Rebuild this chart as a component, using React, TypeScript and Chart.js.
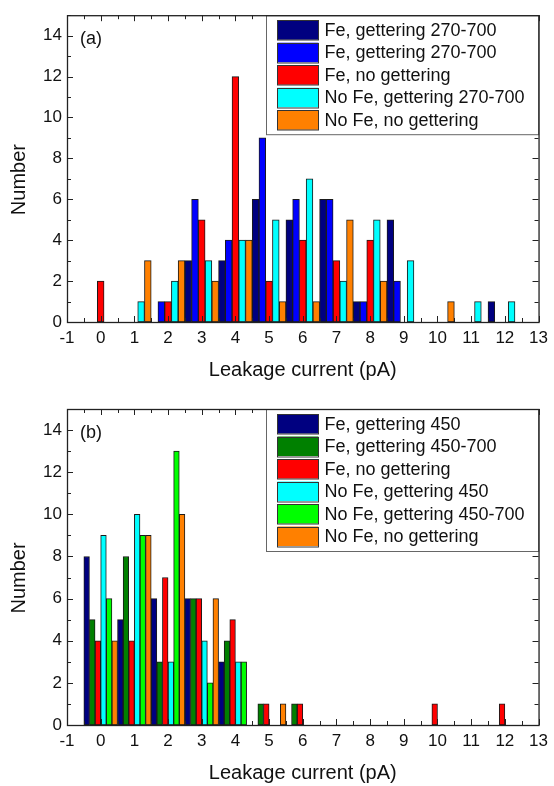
import React, { useEffect, useRef } from 'react';
import { Chart, registerables } from 'chart.js';

Chart.register(...registerables);

// ---------- data ----------
const BINS = [0, 1, 2, 3, 4, 5, 6, 7, 8, 9, 10, 11, 12];
const X_TICKS = [-1, 0, 1, 2, 3, 4, 5, 6, 7, 8, 9, 10, 11, 12, 13];
const Y_TICKS = [0, 2, 4, 6, 8, 10, 12, 14];

// Panel (a)
const A_LABELS = [
  'Fe, gettering 270-700',
  'Fe, gettering 270-700',
  'Fe, no gettering',
  'No Fe, gettering 270-700',
  'No Fe, no gettering',
];
const A_COLORS = ['#000080', '#0000ff', '#ff0000', '#00ffff', '#ff8000'];
const A_FE_GET_DARK = [0, 0, 0, 3, 3, 6, 5, 6, 1, 5, 0, 0, 1];
const A_FE_GET_BLUE = [0, 0, 1, 6, 4, 9, 6, 6, 1, 2, 0, 0, 0];
const A_FE_NOGET = [2, 0, 1, 5, 12, 2, 4, 3, 4, 0, 0, 0, 0];
const A_NOFE_GET = [0, 1, 2, 3, 4, 5, 7, 2, 5, 3, 0, 1, 1];
const A_NOFE_NOGET = [0, 3, 3, 2, 4, 1, 1, 5, 2, 0, 1, 0, 0];

// Panel (b)
const B_LABELS = [
  'Fe, gettering 450',
  'Fe, gettering 450-700',
  'Fe, no gettering',
  'No Fe, gettering 450',
  'No Fe, gettering 450-700',
  'No Fe, no gettering',
];
const B_COLORS = ['#000080', '#008000', '#ff0000', '#00ffff', '#00ff00', '#ff8000'];
const B_FE_450 = [8, 5, 6, 6, 3, 0, 0, 0, 0, 0, 0, 0, 0];
const B_FE_450_700 = [5, 8, 3, 6, 4, 1, 1, 0, 0, 0, 0, 0, 0];
const B_FE_NOGET = [4, 4, 7, 6, 5, 1, 1, 0, 0, 0, 1, 0, 1];
const B_NOFE_450 = [9, 10, 3, 4, 3, 0, 0, 0, 0, 0, 0, 0, 0];
const B_NOFE_450_700 = [6, 9, 13, 2, 3, 0, 0, 0, 0, 0, 0, 0, 0];
const B_NOFE_NOGET = [4, 9, 10, 6, 0, 1, 0, 0, 0, 0, 0, 0, 0];

const X_TITLE = 'Leakage current (pA)';
const Y_TITLE = 'Number';

// ---------- styling ----------
const FONT = "'Liberation Sans', Arial, sans-serif";
const TEXT = '#111';
const W = 554;
const H = 393;

const framePlugin = {
  id: 'frame',
  afterDatasetsDraw(chart: any) {
    const { ctx, chartArea, scales } = chart;
    const { left, right, top, bottom } = chartArea;
    const x = scales.x;
    const y = scales.y;
    ctx.save();
    ctx.strokeStyle = '#222';
    ctx.lineWidth = 1;
    ctx.beginPath();
    for (let v = X_TICKS[0]; v <= X_TICKS[X_TICKS.length - 1] + 1e-9; v += 0.5) {
      const px = Math.round(x.getPixelForValue(v)) + 0.5;
      const len = Number.isInteger(v) ? 6 : 4;
      ctx.moveTo(px, bottom);
      ctx.lineTo(px, bottom - len);
      ctx.moveTo(px, top);
      ctx.lineTo(px, top + len);
    }
    for (let v = 0; v <= y.max + 1e-9; v += 1) {
      const py = Math.round(y.getPixelForValue(v)) + 0.5;
      const len = v % 2 === 0 ? 6 : 4;
      ctx.moveTo(left, py);
      ctx.lineTo(left + len, py);
      ctx.moveTo(right, py);
      ctx.lineTo(right - len, py);
    }
    ctx.stroke();
    ctx.restore();
  },
  afterDraw(chart: any) {
    const { ctx, chartArea } = chart;
    const { left, right, top, bottom } = chartArea;
    const panel = chart.options.plugins.panelInfo || {};
    ctx.save();
    // legend
    const items = chart.data.datasets;
    ctx.font = `18px ${FONT}`;
    let maxW = 0;
    items.forEach((d: any) => {
      maxW = Math.max(maxW, ctx.measureText(d.label).width);
    });
    const rowH = 22.5;
    const patchW = 41;
    const patchH = 19.5;
    const padL = 11;
    const gap = 6;
    const padR = 14;
    const padT = 5;
    const boxW = padL + patchW + gap + maxW + padR;
    const boxH = padT + items.length * rowH + 1.5;
    const bx = right - boxW;
    const by = top;
    ctx.fillStyle = '#fff';
    ctx.fillRect(bx, by, boxW, boxH);
    ctx.strokeStyle = '#666';
    ctx.lineWidth = 1;
    ctx.strokeRect(Math.round(bx) + 0.5, by + 0.5, boxW, Math.round(boxH));
    items.forEach((d: any, i: number) => {
      const py = by + padT + i * rowH;
      const px = bx + padL;
      ctx.fillStyle = d.backgroundColor;
      ctx.fillRect(px, py, patchW, patchH);
      ctx.strokeStyle = '#333';
      ctx.lineWidth = 1;
      ctx.strokeRect(Math.round(px) + 0.5, Math.round(py) + 0.5, patchW, patchH);
      ctx.fillStyle = TEXT;
      ctx.textAlign = 'left';
      ctx.textBaseline = 'middle';
      ctx.fillText(d.label, px + patchW + gap, py + patchH / 2 + 1);
    });
    // frame
    ctx.strokeStyle = '#222';
    ctx.lineWidth = 1.3;
    ctx.strokeRect(left + 0.5, top + 0.5, right - left, bottom - top);
    // panel tag
    ctx.fillStyle = TEXT;
    ctx.font = `18px ${FONT}`;
    ctx.textAlign = 'left';
    ctx.textBaseline = 'middle';
    ctx.fillText(panel.tag || '', left + 13, top + 24);
    // y title
    ctx.save();
    ctx.translate(19, (top + bottom) / 2 + 11);
    ctx.rotate(-Math.PI / 2);
    ctx.font = `20px ${FONT}`;
    ctx.textAlign = 'center';
    ctx.textBaseline = 'middle';
    ctx.fillText(Y_TITLE, 0, 0);
    ctx.restore();
    ctx.restore();
  },
};

function makeConfig(labels: string[], colors: string[], series: number[][], tag: string, padTop: number, padBottom: number): any {
  return {
    type: 'bar',
    data: {
      datasets: series.map((vals, i) => ({
        label: labels[i],
        data: BINS.map((b, j) => ({ x: b, y: vals[j] })).filter((p) => p.y > 0),
        backgroundColor: colors[i],
        borderColor: '#1a1a1a',
        borderWidth: 1,
        borderSkipped: false,
        categoryPercentage: 1,
        barPercentage: 1,
      })),
    },
    options: {
      animation: false,
      responsive: false,
      maintainAspectRatio: false,
      layout: { padding: { left: 0, right: 11, top: padTop, bottom: padBottom } },
      plugins: {
        legend: { display: false },
        tooltip: { enabled: false },
        panelInfo: { tag },
      },
      scales: {
        x: {
          type: 'linear',
          min: X_TICKS[0],
          max: X_TICKS[X_TICKS.length - 1],
          offset: false,
          grid: { display: false, drawTicks: false, offset: false },
          border: { display: false },
          afterBuildTicks: (s: any) => {
            s.ticks = X_TICKS.map((v) => ({ value: v }));
          },
          ticks: {
            autoSkip: false,
            maxRotation: 0,
            padding: 6,
            color: TEXT,
            font: { family: FONT, size: 17 },
          },
          title: {
            display: true,
            text: X_TITLE,
            color: TEXT,
            font: { family: FONT, size: 20 },
            padding: { top: 0, bottom: 0 },
          },
          afterFit: (s: any) => {
            s.height = 60;
          },
        },
        y: {
          type: 'linear',
          min: 0,
          max: 15,
          grid: { display: false, drawTicks: false },
          border: { display: false },
          afterBuildTicks: (s: any) => {
            s.ticks = Y_TICKS.map((v) => ({ value: v }));
          },
          ticks: {
            padding: 5,
            color: TEXT,
            font: { family: FONT, size: 17 },
          },
          afterFit: (s: any) => {
            s.width = 67;
          },
        },
      },
    },
    plugins: [framePlugin],
  };
}

export default function App() {
  const refA = useRef<HTMLCanvasElement>(null);
  const refB = useRef<HTMLCanvasElement>(null);

  useEffect(() => {
    const a = new Chart(
      refA.current as HTMLCanvasElement,
      makeConfig(A_LABELS, A_COLORS, [A_FE_GET_DARK, A_FE_GET_BLUE, A_FE_NOGET, A_NOFE_GET, A_NOFE_NOGET], '(a)', 6, 11)
    );
    const b = new Chart(
      refB.current as HTMLCanvasElement,
      makeConfig(B_LABELS, B_COLORS, [B_FE_450, B_FE_450_700, B_FE_NOGET, B_NOFE_450, B_NOFE_450_700, B_NOFE_NOGET], '(b)', 16, 1)
    );
    return () => {
      a.destroy();
      b.destroy();
    };
  }, []);

  return (
    <div style={{ position: 'fixed', left: 0, top: 0, width: W, height: 786, background: '#fff' }}>
      <canvas ref={refA} width={W} height={H} style={{ position: 'absolute', left: 0, top: 0, width: W, height: H }} />
      <canvas ref={refB} width={W} height={H} style={{ position: 'absolute', left: 0, top: H, width: W, height: H }} />
    </div>
  );
}
